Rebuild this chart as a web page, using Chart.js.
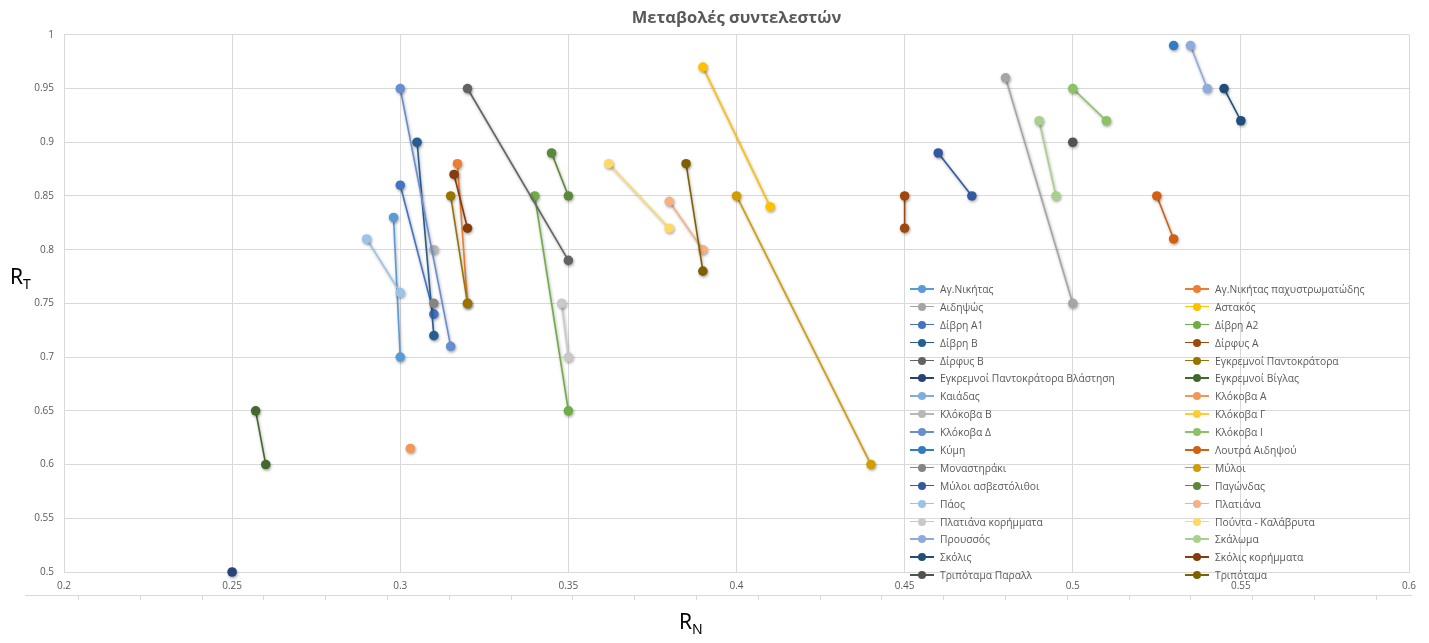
<!DOCTYPE html>
<html>
<head>
<meta charset="utf-8">
<script src="https://cdn.jsdelivr.net/npm/chart.js@4.4.1/dist/chart.umd.min.js"></script>
<style>
  html, body { margin: 0; padding: 0; background: #fff; }
  #wrap { position: relative; width: 1429px; height: 643px; font-family: "Open Sans", "Noto Sans", sans-serif; }
  #c { position: absolute; left: 0; top: 0; }
  .axt { position: absolute; font-family: "Noto Sans", "Open Sans", sans-serif; font-size: 21px; color: #000; line-height: 1; }
  .axt sub { font-size: 14px; vertical-align: -5px; }
  #legend { position: absolute; left: 910px; top: 280px; width: 500px; display: grid; grid-template-columns: 275px 225px; grid-auto-rows: 17.9px; }
  .li { display: flex; align-items: center; font-size: 10.3px; color: #595959; white-space: nowrap; }
  .mk { position: relative; width: 24px; height: 10px; margin-right: 6px; flex: none; }
  .mk .ln { position: absolute; left: 0; right: 0; top: 4px; height: 1.6px; }
  .mk .dt { position: absolute; left: 8px; top: 1px; width: 8px; height: 8px; border-radius: 50%; }
</style>
</head>
<body>
<div id="wrap">
  <canvas id="c" width="1429" height="643"></canvas>
  <div class="axt" style="left:10px; top:266px;">R<sub>T</sub></div>
  <div class="axt" style="left:679px; top:611px;">R<sub>N</sub></div>
  <div id="legend"></div>
</div>
<script>
// ---- data (legend order, as in the source spreadsheet) ----
const seriesNames = [
  "Αγ.Νικήτας", "Αγ.Νικήτας παχυστρωματώδης", "Αιδηψώς", "Αστακός",
  "Δίβρη Α1", "Δίβρη Α2", "Δίβρη Β", "Δίρφυς Α",
  "Δίρφυς Β", "Εγκρεμνοί Παντοκράτορα", "Εγκρεμνοί Παντοκράτορα Βλάστηση", "Εγκρεμνοί Βίγλας",
  "Καιάδας", "Κλόκοβα Α", "Κλόκοβα Β", "Κλόκοβα Γ",
  "Κλόκοβα Δ", "Κλόκοβα Ι", "Κύμη", "Λουτρά Αιδηψού",
  "Μοναστηράκι", "Μύλοι", "Μύλοι ασβεστόλιθοι", "Παγώνδας",
  "Πάος", "Πλατιάνα", "Πλατιάνα κορήμματα", "Πούντα - Καλάβρυτα",
  "Προυσσός", "Σκάλωμα", "Σκόλις", "Σκόλις κορήμματα",
  "Τριπόταμα Παραλλ", "Τριπόταμα"
];
const seriesRN = [
  [0.298, 0.300], [0.317, 0.320], [0.480, 0.500], [0.390, 0.410],
  [0.300, 0.310], [0.340, 0.350], [0.305, 0.310], [0.450, 0.450],
  [0.320, 0.350], [0.315, 0.320], [0.250], [0.257, 0.260],
  [], [0.303], [0.310], [],
  [0.300, 0.315], [0.500, 0.510], [0.530], [0.525, 0.530],
  [0.310], [0.400, 0.440], [0.460, 0.470], [0.345, 0.350],
  [0.290, 0.300], [0.380, 0.390], [0.348, 0.350], [0.362, 0.380],
  [0.535, 0.540], [0.490, 0.495], [0.545, 0.550], [0.316, 0.320],
  [0.500], [0.385, 0.390]
];
const seriesRT = [
  [0.83, 0.70], [0.88, 0.75], [0.96, 0.75], [0.97, 0.84],
  [0.86, 0.74], [0.85, 0.65], [0.90, 0.72], [0.85, 0.82],
  [0.95, 0.79], [0.85, 0.75], [0.50], [0.65, 0.60],
  [], [0.615], [0.80], [],
  [0.95, 0.71], [0.95, 0.92], [0.99], [0.85, 0.81],
  [0.75], [0.85, 0.60], [0.89, 0.85], [0.89, 0.85],
  [0.81, 0.76], [0.845, 0.80], [0.75, 0.70], [0.88, 0.82],
  [0.99, 0.95], [0.92, 0.85], [0.95, 0.92], [0.87, 0.82],
  [0.90], [0.88, 0.78]
];
const xTickRange = [0.2, 0.6, 0.05];
const yTickRange = [0.5, 1.0, 0.05];

// ---- styles ----
const seriesColors = [
  "#5B9BD5", "#ED7D31", "#A5A5A5", "#FFC000", "#4472C4", "#70AD47",
  "#255E91", "#9E480E", "#636363", "#997300", "#264478", "#43682B",
  "#7CAFDD", "#F1975A", "#B7B7B7", "#FFCD33", "#698ED0", "#8CC168",
  "#327DC2", "#D26012", "#848484", "#D09E00", "#335AA1", "#5A8A39",
  "#9DC3E6", "#F4B183", "#C9C9C9", "#FFD966", "#8FAADC", "#A9D18E",
  "#1F4E79", "#843C0C", "#525252", "#7F6000"
];
const GRID = "#D9D9D9";
const TXT = "#595959";

const datasets = seriesNames.map((name, i) => ({
  label: name,
  data: seriesRN[i].map((x, j) => ({ x: x, y: seriesRT[i][j] })),
  order: seriesNames.length - i,   // later series drawn on top, as in the source
  clip: false,
  borderColor: seriesColors[i],
  backgroundColor: seriesColors[i],
  pointBackgroundColor: seriesColors[i],
  pointBorderColor: seriesColors[i],
  pointRadius: 4.8,
  pointBorderWidth: 0,
  pointHoverRadius: 4.8,
  borderWidth: 1.6,
  showLine: true,
  tension: 0
}));

const shadowPlugin = {
  id: 'shadow',
  beforeDatasetsDraw(chart) {
    const ctx = chart.ctx;
    ctx.save();
    ctx.shadowColor = 'rgba(0,0,0,0.35)';
    ctx.shadowBlur = 3;
    ctx.shadowOffsetX = 0.8;
    ctx.shadowOffsetY = 1.5;
  },
  afterDatasetsDraw(chart) { chart.ctx.restore(); }
};

const bottomLinePlugin = {
  id: 'bottomLine',
  afterDraw(chart) {
    const ctx = chart.ctx;
    ctx.save();
    ctx.strokeStyle = GRID;
    ctx.lineWidth = 1;
    ctx.beginPath();
    ctx.moveTo(25, 595.5);
    ctx.lineTo(1412, 595.5);
    for (let x = 78; x < 1412; x += 61.8) {
      ctx.moveTo(Math.round(x) + 0.5, 595.5);
      ctx.lineTo(Math.round(x) + 0.5, 600);
    }
    ctx.stroke();
    ctx.restore();
  }
};

const fmt = v => String(Number(v.toFixed(2)));

const chart = new Chart(document.getElementById('c'), {
  type: 'scatter',
  data: { datasets },
  plugins: [shadowPlugin, bottomLinePlugin],
  options: {
    responsive: false,
    animation: false,
    devicePixelRatio: 1,
    layout: { padding: { left: 0, right: 20, top: 0, bottom: 0 } },
    plugins: {
      legend: { display: false },
      tooltip: { enabled: false },
      title: {
        display: true,
        text: 'Μεταβολές συντελεστών',
        color: TXT,
        fullSize: false,
        font: { family: '"Open Sans", "Noto Sans", sans-serif', size: 16.5, weight: 'bold', lineHeight: 1.2 },
        padding: { top: 8, bottom: 7 }
      }
    },
    scales: {
      x: {
        type: 'linear',
        min: xTickRange[0], max: xTickRange[1],
        ticks: { stepSize: xTickRange[2], callback: fmt, color: TXT, padding: 8, maxRotation: 0,
                 font: { family: '"Open Sans", "Noto Sans", sans-serif', size: 10 } },
        grid: { color: GRID, drawTicks: false, lineWidth: 1 },
        border: { color: GRID },
        afterFit(s) { s.height = 71; }
      },
      y: {
        type: 'linear',
        min: yTickRange[0], max: yTickRange[1],
        ticks: { stepSize: yTickRange[2], callback: fmt, color: TXT, padding: 10,
                 font: { family: '"Open Sans", "Noto Sans", sans-serif', size: 10 } },
        grid: { color: GRID, drawTicks: false, lineWidth: 1 },
        border: { color: GRID },
        afterFit(s) { s.width = 64; }
      }
    }
  }
});

// HTML legend built from the chart's datasets (row-major, 2 columns)
const leg = document.getElementById('legend');
chart.data.datasets.forEach(ds => {
  const item = document.createElement('div');
  item.className = 'li';
  const mk = document.createElement('span');
  mk.className = 'mk';
  const ln = document.createElement('span'); ln.className = 'ln'; ln.style.background = ds.borderColor;
  const dt = document.createElement('span'); dt.className = 'dt'; dt.style.background = ds.pointBackgroundColor;
  mk.appendChild(ln); mk.appendChild(dt);
  const tx = document.createElement('span'); tx.textContent = ds.label;
  item.appendChild(mk); item.appendChild(tx);
  leg.appendChild(item);
});
</script>
</body>
</html>
